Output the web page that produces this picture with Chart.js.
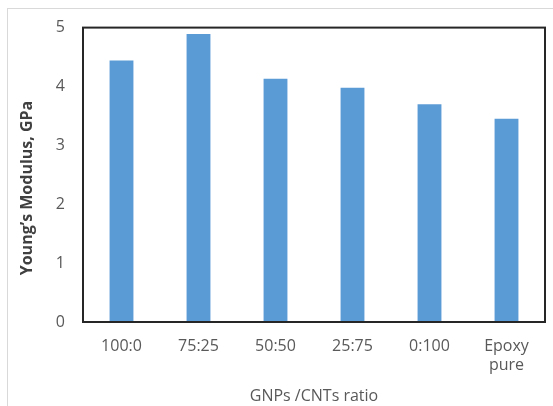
<!DOCTYPE html>
<html lang="en">
<head>
  <meta charset="UTF-8">
  <title>Young's Modulus</title>
  <script src="https://cdn.jsdelivr.net/npm/chart.js"></script>
  <style>
    body {
      margin: 0;
      background: #fff;
    }
    #frame {
      position: absolute;
      left: 7px;
      top: 8px;
      width: 560px;
      height: 410px;
      border: 1px solid #d9d9d9;
    }
    #wrap {
      position: absolute;
      left: 0;
      top: 0;
      width: 553px;
      height: 406px;
    }
  </style>
</head>
<body>
  <div id="frame"></div>
  <div id="wrap"><canvas id="modChart" width="553" height="406"></canvas></div>

  <script>
    const ratios = [['100:0'], ['75:25'], ['50:50'], ['25:75'], ['0:100'], ['Epoxy', 'pure']];
    const modulus = [4.44, 4.89, 4.13, 3.98, 3.70, 3.45];
    const yTicks = [0, 1, 2, 3, 4, 5];
    const yTitle = 'Young\u2019s Modulus, GPa';

    const textColor = '#595959';
    const font = 'Open Sans';

    // black frame round the plot area, plus the rotated y title
    const plotFrame = {
      id: 'plotFrame',
      afterDatasetsDraw(chart) {
        const a = chart.chartArea;
        const ctx = chart.ctx;
        ctx.save();
        ctx.strokeStyle = '#262626';
        ctx.lineWidth = 2;
        ctx.strokeRect(a.left, a.top, a.right - a.left, a.bottom - a.top);

        ctx.translate(27, 188);
        ctx.rotate(-Math.PI / 2);
        ctx.fillStyle = '#404040';
        ctx.font = 'bold 16px "Open Sans"';
        ctx.textAlign = 'center';
        ctx.textBaseline = 'middle';
        ctx.fillText(yTitle, 0, 0);
        ctx.restore();
      }
    };

    new Chart(document.getElementById('modChart'), {
      type: 'bar',
      data: {
        labels: ratios,
        datasets: [{
          data: modulus,
          backgroundColor: '#5b9bd5',
          barPercentage: 0.31,
          categoryPercentage: 1
        }]
      },
      options: {
        responsive: false,
        animation: false,
        layout: { padding: { left: 0, right: 8, top: 26, bottom: 0 } },
        plugins: {
          legend: { display: false },
          tooltip: { enabled: false }
        },
        scales: {
          x: {
            grid: { display: false, drawTicks: false },
            border: { display: false },
            ticks: {
              color: textColor,
              font: { family: font, size: 16 },
              padding: 15,
              maxRotation: 0,
              autoSkip: false
            },
            title: {
              display: true,
              text: 'GNPs /CNTs ratio',
              color: textColor,
              font: { family: font, size: 16 },
              padding: { top: 0, bottom: 0 }
            },
            afterFit(scale) { scale.height = 84; }
          },
          y: {
            min: 0,
            max: 5,
            afterBuildTicks(scale) { scale.ticks = yTicks.map(v => ({ value: v })); },
            grid: { display: false, drawTicks: false },
            border: { display: false },
            ticks: {
              color: textColor,
              font: { family: font, size: 16 },
              padding: 18
            },
            afterFit(scale) { scale.width = 83; }
          }
        }
      },
      plugins: [plotFrame]
    });
  </script>
</body>
</html>
